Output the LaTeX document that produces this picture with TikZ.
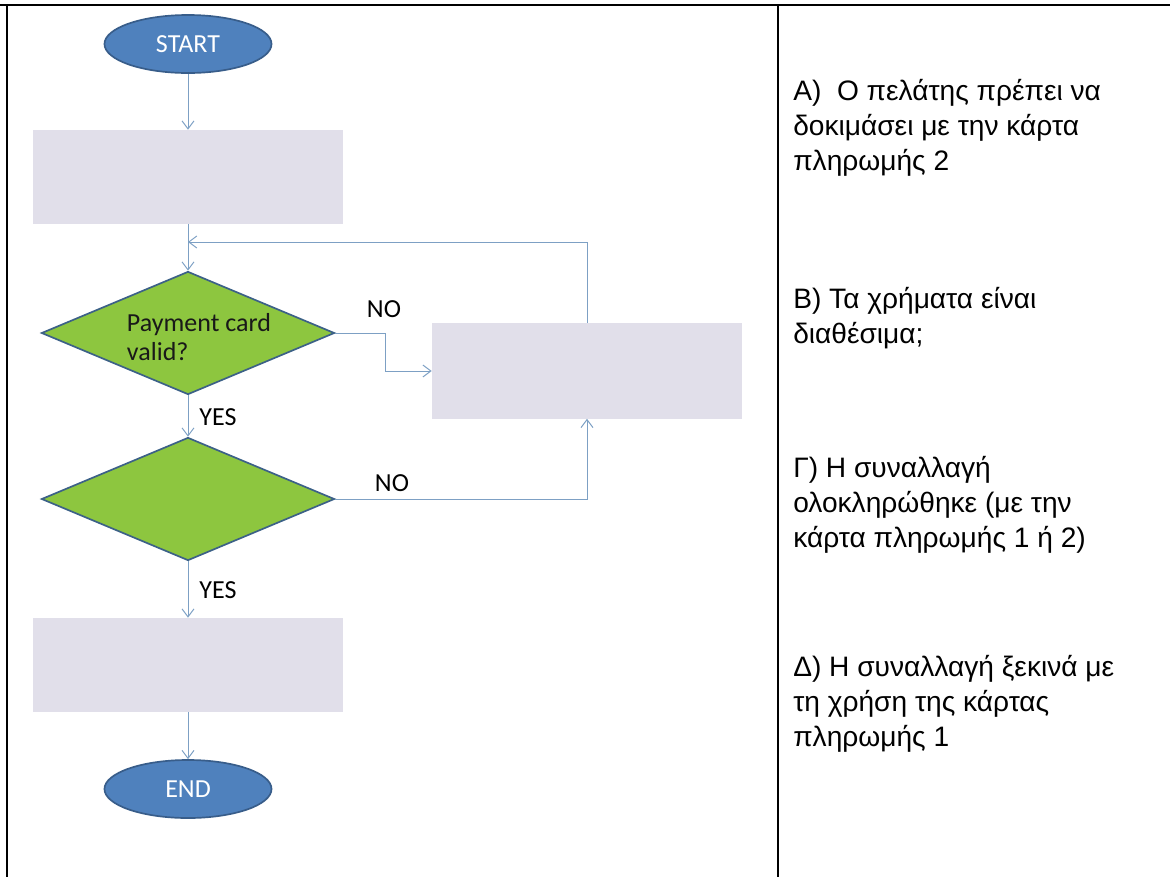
\documentclass[tikz,border=0pt]{standalone}
\usepackage{fontspec}
\setmainfont{Liberation Sans}
\newfontfamily\flowfont{Carlito}
\usepackage{xcolor}
\usetikzlibrary{positioning,arrows.meta,shapes.geometric}

\definecolor{termblue}{HTML}{4F81BD}
\definecolor{termedge}{HTML}{385D8A}
\definecolor{decgreen}{HTML}{8DC63F}
\definecolor{decedge}{HTML}{3C6187}
\definecolor{procfill}{HTML}{E1DFEA}
\definecolor{flowline}{HTML}{7DA0C4}

\begin{document}
\begin{tikzpicture}[x=0.025cm,y=-0.025cm,
  terminal/.style={ellipse,draw=termedge,fill=termblue,line width=1.2pt,minimum width=4.175cm,minimum height=1.45cm,inner sep=0pt,text=white,font=\flowfont\fontsize{18.5}{20}\selectfont},
  process/.style={rectangle,fill=procfill,minimum width=7.725cm,minimum height=2.35cm,inner sep=0pt},
  decision/.style={diamond,draw=decedge,fill=decgreen,line width=1.2pt,minimum width=7.325cm,minimum height=3.075cm,inner sep=0pt},
  flow/.style={draw=flowline,line width=0.7pt,-{Straight Barb[length=2mm,width=3mm]}},
  tag/.style={font=\flowfont\fontsize{18.5}{21}\selectfont,inner sep=0pt},
  answer/.style={anchor=north west,align=left,inner sep=0pt,font=\fontsize{20}{25}\selectfont}]
  \useasboundingbox (0,0) rectangle (1170,877);

  % table frame
  \draw[line width=1.4pt] (0,5) -- (1170,5);
  \draw[line width=1.4pt] (7,5) -- (7,877);
  \draw[line width=1.4pt] (778,5) -- (778,877);

  % flowchart
  \node[terminal] (start) at (188,44) {START};
  \node[process] (pay1) at (188,177) {};
  \node[decision] (valid) at (188,333) {};
  \node[tag,align=left,text=black!90] (validtxt) at (199,337) {Payment card\\valid?};
  \node[process,minimum width=7.75cm,minimum height=2.375cm] (pay2) at (587,371) {};
  \node[decision] (funds) at (188,499) {};
  \node[process] (done) at (188,665) {};
  \node[terminal] (end) at (188,789) {END};
  \coordinate (merge) at (188,242);

  \node[tag] (no1) at (384,309) {NO};
  \node[tag] (no2) at (392,483) {NO};
  \node[tag] (yes1) at (218,417) {YES};
  \node[tag] (yes2) at (218,590) {YES};

  \draw[flow] (start) -- (pay1);
  \draw[flow] (pay1) -- (valid);
  \draw[flow] (valid) -- (funds);
  \draw[flow] (funds) -- (done);
  \draw[flow] (done) -- (end);
  \draw[flow] (valid.east) -- ++(50,0) |- (pay2.west);
  \draw[flow] (funds.east) -| (pay2.south);
  \draw[flow] (pay2.north) |- (merge);

  % answers
  \node[answer] (ansA) at (793,79) {Α)~~Ο πελάτης πρέπει να\\δοκιμάσει με την κάρτα\\πληρωμής 2};
  \node[answer] (ansB) at (793,287) {Β) Τα χρήματα είναι\\διαθέσιμα;};
  \node[answer] (ansC) at (793,456) {Γ) Η συναλλαγή\\ολοκληρώθηκε (με την\\κάρτα πληρωμής 1 ή 2)};
  \node[answer] (ansD) at (793,655) {Δ) Η συναλλαγή ξεκινά με\\τη χρήση της κάρτας\\πληρωμής 1};
\end{tikzpicture}
\end{document}
